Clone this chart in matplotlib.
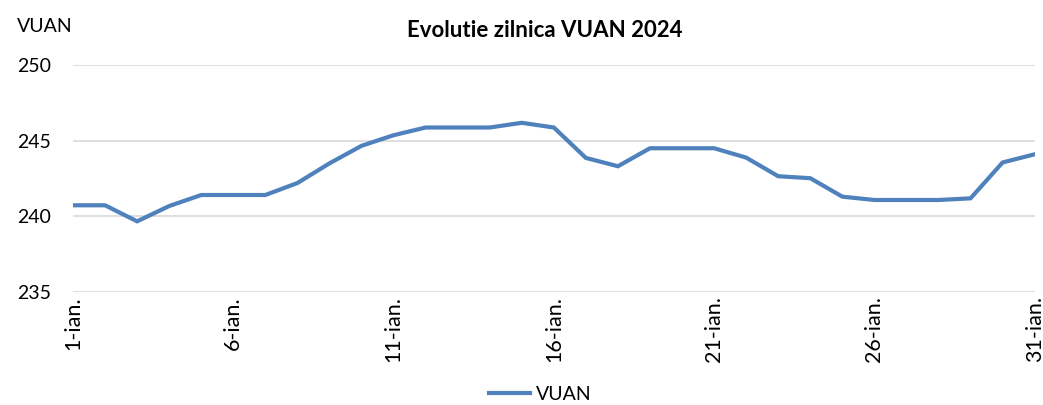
import numpy as np
import matplotlib as mpl
mpl.use("Agg")
import matplotlib.pyplot as plt

mpl.rcParams.update({"font.family": ["Lato", "DejaVu Sans"]})

# VUAN daily values, January 2024
days = list(range(1, 32))
vuan = [240.73, 240.73, 239.67, 240.68, 241.41, 241.41, 241.41, 242.2, 243.5, 244.66,
        245.36, 245.87, 245.87, 245.87, 246.18, 245.87, 243.86, 243.31, 244.5, 244.5,
        244.5, 243.88, 242.65, 242.52, 241.3, 241.08, 241.08, 241.08, 241.19, 243.56,
        244.1]
tick_days = [1, 6, 11, 16, 21, 26, 31]
tick_labels = ["%d-ian." % d for d in tick_days]
yticks = [235, 240, 245, 250]

BLUE, GRID = "#4f81bd", "#d9d9d9"

fig = plt.figure(figsize=(10.43, 4.05), dpi=100)
ax = fig.add_axes([0.070, 0.279, 0.922, 0.5605])
ax.plot(days, vuan, color=BLUE, lw=3.0, solid_joinstyle="miter", label="VUAN")
ax.set_xlim(1, 31)
ax.set_ylim(235, 250)
ax.set_yticks(yticks)
ax.set_xticks(tick_days)
ax.set_xticklabels(tick_labels, rotation=90, va="top", ha="center")
ax.tick_params(axis="both", length=0, labelsize=14)
ax.tick_params(axis="x", labelsize=15.5, pad=3)
ax.tick_params(axis="y", pad=16)
for s in ax.spines.values():
    s.set_visible(False)
ax.grid(axis="y", color=GRID, lw=1.2)
ax.set_axisbelow(True)

fig.text(0.5225, 0.925, "Evolutie zilnica VUAN 2024", ha="center", va="center",
         fontsize=16, fontweight="bold")
fig.text(0.016, 0.935, "VUAN", ha="left", va="center", fontsize=14)
fig.legend(loc="lower center", bbox_to_anchor=(0.518, -0.038), frameon=False,
           fontsize=14, handlelength=2.1, handletextpad=0.3)
fig.savefig("out.png", dpi=100)
